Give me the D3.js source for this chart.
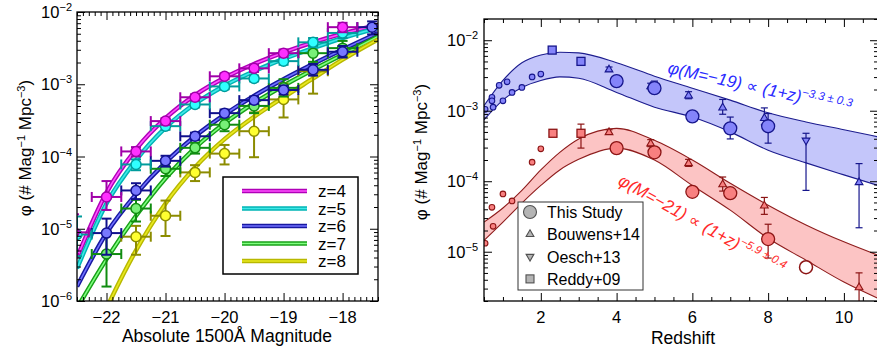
<!DOCTYPE html>
<html>
<head>
<meta charset="utf-8">
<script src="https://cdn.jsdelivr.net/npm/d3@7"></script>
<style>
  body { margin: 0; background: #fff; }
  svg { display: block; font-family: "Liberation Sans", Arial, sans-serif; }
</style>
</head>
<body>
<svg id="chart" width="877" height="354"></svg>
<script>
// ---------- left panel: UV luminosity functions ----------
const lfLabels = ["z=4", "z=5", "z=6", "z=7", "z=8"];
const lfFill = ["#ff30ff", "#30ffff", "#7878ff", "#78f078", "#ffff30"];
const lfDark = ["#a000a8", "#009c9c", "#10108c", "#108c10", "#8c8c00"];
const lfLineOuter = ["#b000b8", "#00b4b4", "#1818a0", "#18a018", "#b8b800"];
const lfLineInner = ["#ff50ff", "#40e8e8", "#7070ff", "#80ff80", "#e8e820"];

// [M1500, log10 phi, err up (dex), err down (dex)]
const lfPointsZ4 = [
  [-22.55, -5.05, 0.25, 0.3], [-22.0, -4.56, 0.22, 0.18], [-21.5, -3.93, 0.06, 0.07],
  [-21.0, -3.51, 0.04, 0.05], [-20.5, -3.18, 0.04, 0.04], [-20.0, -2.89, 0.04, 0.04],
  [-19.5, -2.78, 0.05, 0.05], [-19.0, -2.57, 0.05, 0.05], [-18.0, -2.21, 0.06, 0.07]
];
const lfPointsZ5 = [
  [-22.5, -5.08, 0.25, 0.3], [-21.5, -4.11, 0.07, 0.08], [-21.0, -3.58, 0.05, 0.05],
  [-20.5, -3.28, 0.04, 0.04], [-20.0, -3.03, 0.04, 0.04], [-19.5, -2.92, 0.04, 0.04],
  [-19.0, -2.68, 0.05, 0.05], [-18.5, -2.42, 0.06, 0.06], [-18.0, -2.29, 0.07, 0.07]
];
const lfPointsZ6 = [
  [-22.0, -5.06, 0.2, 0.3], [-21.5, -4.47, 0.1, 0.12], [-21.0, -4.06, 0.07, 0.08],
  [-20.5, -3.72, 0.05, 0.05], [-20.0, -3.40, 0.05, 0.05], [-19.5, -3.22, 0.05, 0.05],
  [-19.0, -3.08, 0.06, 0.06], [-18.5, -2.80, 0.08, 0.08], [-18.0, -2.55, 0.08, 0.08],
  [-17.5, -2.21, 0.08, 0.1]
];
const lfPointsZ7 = [
  [-22.0, -5.35, 0.3, 0.45], [-21.5, -4.72, 0.12, 0.18], [-21.0, -4.17, 0.08, 0.1],
  [-20.5, -3.88, 0.07, 0.08], [-20.0, -3.56, 0.08, 0.09], [-19.5, -3.30, 0.1, 0.1],
  [-19.0, -3.05, 0.12, 0.12], [-18.5, -2.57, 0.1, 0.12], [-18.0, -2.50, 0.1, 0.12]
];
const lfPointsZ8 = [
  [-21.5, -5.11, 0.15, 0.25], [-21.0, -4.82, 0.21, 0.28], [-20.5, -4.22, 0.1, 0.12],
  [-20.0, -3.96, 0.12, 0.15], [-19.5, -3.65, 0.26, 0.36], [-19.0, -3.21, 0.22, 0.25],
  [-18.5, -2.82, 0.29, 0.31]
];

// fitted curves at these magnitudes (log10 phi)
const curveMags = [-22.5, -22, -21.5, -21, -20.5, -20, -19.5, -19, -18.5, -18, -17.4];
const curveZ4 = [-5.4, -4.5, -3.9, -3.47, -3.15, -2.91, -2.72, -2.56, -2.42, -2.3, -2.18];
const curveZ5 = [-5.55, -4.65, -4.05, -3.6, -3.27, -3.02, -2.82, -2.65, -2.5, -2.36, -2.22];
const curveZ6 = [-5.8, -5.06, -4.52, -4.08, -3.72, -3.42, -3.16, -2.93, -2.72, -2.52, -2.29];
const curveZ7 = [-6.1, -5.42, -4.82, -4.3, -3.88, -3.54, -3.26, -3.02, -2.8, -2.59, -2.34];
const curveZ8 = [-7.0, -6.1, -5.3, -4.65, -4.15, -3.76, -3.45, -3.18, -2.92, -2.66, -2.38];

const lfPoints = [lfPointsZ4, lfPointsZ5, lfPointsZ6, lfPointsZ7, lfPointsZ8];
const lfCurves = [curveZ4, curveZ5, curveZ6, curveZ7, curveZ8];

// ---------- right panel: number density vs redshift ----------
const bandZ = [0.5, 1, 1.5, 2, 2.5, 3, 4, 5, 6, 7, 8, 9, 10, 10.9];
const bandM19Upper = [-2.93, -2.57, -2.32, -2.21, -2.17, -2.18, -2.32, -2.51, -2.68, -2.85, -3.03, -3.16, -3.27, -3.37];
const bandM19Lower = [-3.13, -2.85, -2.67, -2.57, -2.52, -2.54, -2.74, -2.95, -3.09, -3.3, -3.56, -3.74, -3.91, -4.06];
const bandM21Upper = [-4.58, -4.38, -4.13, -3.84, -3.59, -3.4, -3.25, -3.42, -3.7, -4.03, -4.34, -4.62, -4.86, -5.05];
const bandM21Lower = [-4.84, -4.58, -4.31, -4.06, -3.84, -3.69, -3.53, -3.7, -4.06, -4.41, -4.81, -5.12, -5.43, -5.66];

// [z, log10 phi, err up, err down]
const m19Lowz = [
  [0.53, -2.98], [0.71, -2.81], [0.71, -2.86], [0.74, -2.95], [0.9, -2.64], [1.0, -2.86],
  [1.11, -2.59], [1.24, -2.74], [1.5, -2.67], [1.77, -2.52], [2.0, -2.48]
];
const m21Lowz = [
  [0.53, -4.88], [0.71, -4.37], [0.74, -4.64], [1.0, -4.18], [1.24, -4.28], [1.77, -3.73], [2.0, -3.54]
];
const m19Reddy = [[2.3, -2.14, 0, 0], [3.06, -2.3, 0, 0]];
const m21Reddy = [[2.32, -3.32, 0, 0], [3.06, -3.32, 0.13, 0.21]];
const m19Bouwens = [
  [3.8, -2.41, 0.03, 0.03], [4.9, -2.65, 0.04, 0.04], [5.9, -2.78, 0.05, 0.05],
  [6.8, -2.95, 0.11, 0.1], [7.9, -3.1, 0.14, 0.1], [10.4, -4.01, 0.26, 0.65]
];
const m21Bouwens = [
  [3.8, -3.3, 0.03, 0.03], [4.9, -3.46, 0.05, 0.05], [5.9, -3.74, 0.05, 0.05],
  [6.8, -4.04, 0.1, 0.1], [7.9, -4.34, 0.11, 0.13], [10.4, -5.5, 0.2, 0.5]
];
const m19Oesch = [[9.0, -3.42, 0.1, 0.71]];
const m19Study = [
  [4.0, -2.58, 0.02, 0.02], [5.0, -2.68, 0.1, 0.05], [6.0, -3.08, 0.03, 0.03],
  [7.0, -3.25, 0.16, 0.15], [8.0, -3.22, 0.18, 0.24]
];
const m21Study = [
  [4.0, -3.53, 0.02, 0.02], [5.0, -3.59, 0.03, 0.03], [6.0, -4.15, 0.04, 0.04],
  [7.0, -4.17, 0.06, 0.06], [8.0, -4.82, 0.21, 0.27]
];
const m21Upper = [[9.0, -5.22]];
const legendNames = ["This Study", "Bouwens+14", "Oesch+13", "Reddy+09"];

// ---------- scales ----------
const leftX = d3.scaleLinear().domain([-22.5, -17.4]).range([77, 378]);
const leftY = d3.scaleLog().domain([1e-6, 1e-2]).range([301, 12]);
const rightX = d3.scaleLinear().domain([0.5, 10.9]).range([484, 878]);
const rightY = d3.scaleLog().domain([2e-6, 2e-2]).range([301, 19]);

const svg = d3.select("#chart");
const defs = svg.append("defs");

const addClip = (id, x, y) => {
  defs.append("clipPath").attr("id", id).append("rect")
    .attr("x", x.range()[0]).attr("y", y.range()[1])
    .attr("width", x.range()[1] - x.range()[0])
    .attr("height", y.range()[0] - y.range()[1]);
};
addClip("clip-left", leftX, leftY);
addClip("clip-right", rightX, rightY);

const logMinor = (lo, hi) => {
  const out = [];
  for (let e = lo; e <= hi; e++) {
    for (let k = 2; k <= 9; k++) out.push(k * Math.pow(10, e));
  }
  return out;
};

const tickLayer = (g, axisFn, scale, values, size, transform) => {
  g.append("g").attr("transform", transform)
    .call(axisFn(scale).tickValues(values).tickSize(size).tickFormat(""))
    .call((s) => s.select(".domain").remove());
};

const drawFrameTicks = (x, y, xMajor, xMinor, yMajor, yMinor) => {
  const [x0, x1] = x.range();
  const [y1, y0] = y.range();
  const g = svg.append("g").attr("stroke-width", 1);
  tickLayer(g, d3.axisBottom, x, xMajor, -8, `translate(0,${y1})`);
  tickLayer(g, d3.axisBottom, x, xMinor, -4, `translate(0,${y1})`);
  tickLayer(g, d3.axisTop, x, xMajor, -8, `translate(0,${y0})`);
  tickLayer(g, d3.axisTop, x, xMinor, -4, `translate(0,${y0})`);
  tickLayer(g, d3.axisLeft, y, yMajor, -8, `translate(${x0},0)`);
  tickLayer(g, d3.axisLeft, y, yMinor, -4, `translate(${x0},0)`);
  tickLayer(g, d3.axisRight, y, yMajor, -8, `translate(${x1},0)`);
  tickLayer(g, d3.axisRight, y, yMinor, -4, `translate(${x1},0)`);
  svg.append("rect").attr("x", x0).attr("y", y0).attr("width", x1 - x0).attr("height", y1 - y0)
    .attr("fill", "none").attr("stroke", "#000").attr("stroke-width", 1.3);
};

const logLabels = (y, exps, xEnd) => {
  exps.forEach((e) => {
    const t = svg.append("text").attr("x", xEnd).attr("y", y(Math.pow(10, e)) + 6)
      .attr("text-anchor", "end").attr("font-size", 16.5).attr("fill", "#000");
    t.append("tspan").text("10");
    t.append("tspan").attr("dy", -7).attr("font-size", 11).text("\u2212" + Math.abs(e));
  });
};

const xLabels = (x, values, fmt) => {
  values.forEach((v) => {
    svg.append("text").attr("x", x(v)).attr("y", 323).attr("text-anchor", "middle")
      .attr("font-size", 16.5).text(fmt(v));
  });
};

const phiTitle = (cx, cy) => {
  const t = svg.append("text").attr("transform", `translate(${cx},${cy}) rotate(-90)`)
    .attr("text-anchor", "middle").attr("font-size", 17);
  t.append("tspan").text("\u03c6 (# Mag");
  t.append("tspan").attr("dy", -6).attr("font-size", 11).text("\u22121");
  t.append("tspan").attr("dy", 6).text(" Mpc");
  t.append("tspan").attr("dy", -6).attr("font-size", 11).text("\u22123");
  t.append("tspan").attr("dy", 6).text(")");
};

// ---------- left panel ----------
const left = svg.append("g").attr("clip-path", "url(#clip-left)");

const lfLine = d3.line()
  .x((d, i) => leftX(curveMags[i]))
  .y((d) => leftY(Math.pow(10, d)))
  .curve(d3.curveMonotoneX);

lfCurves.forEach((c, i) => {
  left.append("path").attr("d", lfLine(c)).attr("fill", "none")
    .attr("stroke", lfLineOuter[i]).attr("stroke-width", 4.5);
  left.append("path").attr("d", lfLine(c)).attr("fill", "none")
    .attr("stroke", lfLineInner[i]).attr("stroke-width", 1.6);
});

const lfErr = (g, p, color) => {
  const cx = leftX(p[0]);
  const cy = leftY(Math.pow(10, p[1]));
  const yTop = leftY(Math.pow(10, p[1] + p[2]));
  const yBot = leftY(Math.pow(10, p[1] - p[3]));
  const xa = leftX(p[0] - 0.25);
  const xb = leftX(p[0] + 0.25);
  const e = g.append("g").attr("stroke", color).attr("stroke-width", 2).attr("fill", "none");
  e.append("line").attr("x1", cx).attr("x2", cx).attr("y1", yTop).attr("y2", yBot);
  e.append("line").attr("x1", cx - 5).attr("x2", cx + 5).attr("y1", yTop).attr("y2", yTop);
  e.append("line").attr("x1", cx - 5).attr("x2", cx + 5).attr("y1", yBot).attr("y2", yBot);
  e.append("line").attr("x1", xa).attr("x2", xb).attr("y1", cy).attr("y2", cy);
  e.append("line").attr("x1", xa).attr("x2", xa).attr("y1", cy - 5).attr("y2", cy + 5);
  e.append("line").attr("x1", xb).attr("x2", xb).attr("y1", cy - 5).attr("y2", cy + 5);
};

[4, 3, 2, 1, 0].forEach((i) => {
  lfPoints[i].forEach((p) => lfErr(left, p, lfDark[i]));
  left.selectAll(null).data(lfPoints[i]).join("circle")
    .attr("cx", (p) => leftX(p[0])).attr("cy", (p) => leftY(Math.pow(10, p[1])))
    .attr("r", 5).attr("fill", lfFill[i]).attr("stroke", lfDark[i]).attr("stroke-width", 1.5);
});

drawFrameTicks(
  leftX,
  leftY,
  [-22, -21, -20, -19, -18],
  d3.range(-225, -173).map((v) => v / 10).filter((v) => v % 1 !== 0),
  [1e-6, 1e-5, 1e-4, 1e-3, 1e-2],
  logMinor(-6, -3)
);
logLabels(leftY, [-6, -5, -4, -3, -2], 72);
xLabels(leftX, [-22, -21, -20, -19, -18], (v) => "\u2212" + Math.abs(v));
svg.append("text").attr("x", 227).attr("y", 342).attr("text-anchor", "middle")
  .attr("font-size", 17.5).text("Absolute 1500\u00c5 Magnitude");
phiTitle(31, 148);

// legend (left)
const lg = svg.append("g");
lg.append("rect").attr("x", 223).attr("y", 177).attr("width", 135).attr("height", 97)
  .attr("fill", "#fff").attr("stroke", "#000").attr("stroke-width", 1.5);
lfLabels.forEach((name, i) => {
  const y = 191 + i * 17.5;
  lg.append("line").attr("x1", 242).attr("x2", 307).attr("y1", y).attr("y2", y)
    .attr("stroke", lfLineOuter[i]).attr("stroke-width", 4.5);
  lg.append("line").attr("x1", 242).attr("x2", 307).attr("y1", y).attr("y2", y)
    .attr("stroke", lfLineInner[i]).attr("stroke-width", 1.6);
  lg.append("text").attr("x", 318).attr("y", y + 6).attr("font-size", 17).text(name);
});

// ---------- right panel ----------
const right = svg.append("g").attr("clip-path", "url(#clip-right)");

const bandArea = (upper, lower) => d3.area()
  .x((d, i) => rightX(bandZ[i]))
  .y0((d, i) => rightY(Math.pow(10, lower[i])))
  .y1((d, i) => rightY(Math.pow(10, upper[i])))
  .curve(d3.curveMonotoneX)(bandZ);
const bandLine = d3.line()
  .x((d, i) => rightX(bandZ[i]))
  .y((d) => rightY(Math.pow(10, d)))
  .curve(d3.curveMonotoneX);

const bands = [
  { upper: bandM19Upper, lower: bandM19Lower, fill: "#c4c6fa", stroke: "#1c1c8e" },
  { upper: bandM21Upper, lower: bandM21Lower, fill: "#fcc4c4", stroke: "#8e1c1c" }
];
bands.forEach((b) => {
  right.append("path").attr("d", bandArea(b.upper, b.lower)).attr("fill", b.fill);
  [b.upper, b.lower].forEach((c) => {
    right.append("path").attr("d", bandLine(c)).attr("fill", "none")
      .attr("stroke", b.stroke).attr("stroke-width", 1.1);
  });
});

const rx = (p) => rightX(p[0]);
const ry = (p) => rightY(Math.pow(10, p[1]));

const rErr = (g, pts, color) => {
  pts.filter((p) => p[2] > 0 || p[3] > 0).forEach((p) => {
    const cx = rx(p);
    const yTop = rightY(Math.pow(10, p[1] + p[2]));
    const yBot = rightY(Math.pow(10, p[1] - p[3]));
    const e = g.append("g").attr("stroke", color).attr("stroke-width", 1.2);
    e.append("line").attr("x1", cx).attr("x2", cx).attr("y1", yTop).attr("y2", yBot);
    e.append("line").attr("x1", cx - 3.5).attr("x2", cx + 3.5).attr("y1", yTop).attr("y2", yTop);
    e.append("line").attr("x1", cx - 3.5).attr("x2", cx + 3.5).attr("y1", yBot).attr("y2", yBot);
  });
};

const triangle = d3.symbol().type(d3.symbolTriangle).size(26)();

const series = [
  { dark: "#16168c", light: "#8484fa", lowz: m19Lowz, reddy: m19Reddy, bouwens: m19Bouwens, oesch: m19Oesch, study: m19Study, open: [] },
  { dark: "#8c1414", light: "#f88080", lowz: m21Lowz, reddy: m21Reddy, bouwens: m21Bouwens, oesch: [], study: m21Study, open: m21Upper }
];

series.forEach((s) => {
  [s.reddy, s.bouwens, s.oesch, s.study].forEach((pts) => rErr(right, pts, s.dark));
  right.selectAll(null).data(s.lowz).join("circle")
    .attr("cx", rx).attr("cy", ry).attr("r", 2.8)
    .attr("fill", s.light).attr("stroke", s.dark).attr("stroke-width", 1.1);
  right.selectAll(null).data(s.reddy).join("rect")
    .attr("x", (p) => rx(p) - 4).attr("y", (p) => ry(p) - 4).attr("width", 8).attr("height", 8)
    .attr("fill", s.light).attr("stroke", s.dark).attr("stroke-width", 1.3);
  right.selectAll(null).data(s.bouwens).join("path")
    .attr("d", triangle)
    .attr("transform", (p) => `translate(${rx(p)},${ry(p) + 0.5})`)
    .attr("fill", s.light).attr("stroke", s.dark).attr("stroke-width", 1.1);
  right.selectAll(null).data(s.oesch).join("path")
    .attr("d", triangle)
    .attr("transform", (p) => `translate(${rx(p)},${ry(p)}) rotate(180)`)
    .attr("fill", s.light).attr("stroke", s.dark).attr("stroke-width", 1.1);
  right.selectAll(null).data(s.study).join("circle")
    .attr("cx", rx).attr("cy", ry).attr("r", 6.5)
    .attr("fill", s.light).attr("stroke", s.dark).attr("stroke-width", 1.3);
  right.selectAll(null).data(s.open).join("circle")
    .attr("cx", rx).attr("cy", ry).attr("r", 6.5)
    .attr("fill", "#fff").attr("stroke", s.dark).attr("stroke-width", 1.5);
});

// annotations along the bands
const note = (x, y, angle, color, head, tail, sup) => {
  const t = svg.append("text").attr("transform", `translate(${x},${y}) rotate(${angle})`)
    .attr("font-size", 17).attr("font-style", "italic").attr("fill", color);
  t.append("tspan").text(head);
  t.append("tspan").attr("font-family", "DejaVu Sans").attr("font-style", "normal")
    .attr("font-size", 16).text(" \u221d ");
  t.append("tspan").text(tail);
  t.append("tspan").attr("dy", -7).attr("font-size", 11.5).text(sup);
};
note(667, 73, 12.5, "#2a2aff", "\u03c6(M=\u221219)", "(1+z)", "\u22123.3 \u00b1 0.3");
note(617, 184, 29, "#ff2a2a", "\u03c6(M=\u221221)", "(1+z)", "\u22125.9 \u00b1 0.4");

// legend (right)
const rl = svg.append("g");
rl.append("rect").attr("x", 518).attr("y", 202).attr("width", 125).attr("height", 88)
  .attr("fill", "#fff").attr("stroke", "#333").attr("stroke-width", 1);
legendNames.forEach((name, i) => {
  const y = 212 + i * 22.3;
  const mark = rl.append("g").attr("transform", `translate(530,${y})`)
    .attr("fill", "#b4b4b4").attr("stroke", "#505050").attr("stroke-width", 1.1);
  if (i === 0) mark.append("circle").attr("r", 6.5);
  if (i === 1) mark.append("path").attr("d", triangle);
  if (i === 2) mark.append("path").attr("d", triangle).attr("transform", "rotate(180)");
  if (i === 3) mark.append("rect").attr("x", -4).attr("y", -4).attr("width", 8).attr("height", 8);
  rl.append("text").attr("x", 547).attr("y", y + 6).attr("font-size", 16).text(name);
});

drawFrameTicks(
  rightX,
  rightY,
  [2, 4, 6, 8, 10],
  d3.range(1, 22).map((v) => v / 2).filter((v) => v % 2 !== 0),
  [1e-5, 1e-4, 1e-3, 1e-2],
  logMinor(-6, -2).filter((v) => v >= 2e-6 && v <= 2e-2)
);
logLabels(rightY, [-5, -4, -3, -2], 478);
xLabels(rightX, [2, 4, 6, 8, 10], (v) => String(v));
svg.append("text").attr("x", 683).attr("y", 344).attr("text-anchor", "middle")
  .attr("font-size", 17.5).text("Redshift");
phiTitle(427, 152);
</script>
</body>
</html>
